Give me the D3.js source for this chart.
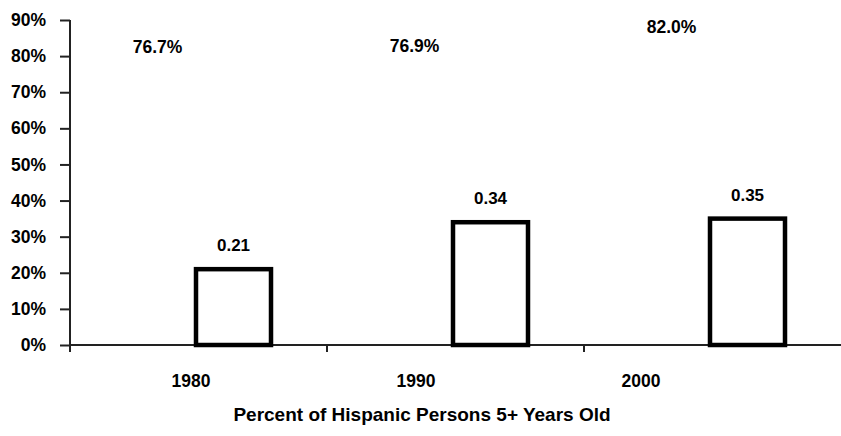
<!DOCTYPE html>
<html>
<head>
<meta charset="utf-8">
<script src="https://cdn.jsdelivr.net/npm/d3@7"></script>
<style>
  html, body { margin: 0; padding: 0; background: #fff; }
  svg { display: block; font-family: "Liberation Sans", Arial, sans-serif; }
</style>
</head>
<body>
<svg id="chart" width="841" height="436"></svg>
<script>
// Census years on the category axis
const years = ["1980", "1990", "2000"];
// Ratio shown by the outlined bars
const ratioValues = [0.21, 0.34, 0.35];
// Share of Hispanic persons 5+ years old (printed above the plot)
const shareValues = [0.767, 0.769, 0.820];
// Y-axis ticks
const yTicks = [0, 0.1, 0.2, 0.3, 0.4, 0.5, 0.6, 0.7, 0.8, 0.9];
const xTitle = "Percent of Hispanic Persons 5+ Years Old";

const svg = d3.select("#chart");
const W = 841, H = 436;
const plotL = 70, plotR = 841, plotT = 20, plotB = 345;

const y = d3.scaleLinear().domain([0, 0.9]).range([plotB, plotT]);
const x = d3.scaleBand().domain(years).range([plotL, plotR]).paddingInner(0).paddingOuter(0);
// slots inside each category band: share (label only) and ratio (outlined bar)
const inner = d3.scaleBand().domain(["share", "ratio"]).range([48, 202]).paddingInner(0);
// category label positions
const yearLabelX = d3.scalePoint().domain(years).range([191, 641]);

const fmtPct = d3.format(".0%");
const fmtShare = d3.format(".1%");

// Y axis
const yAxis = d3.axisLeft(y).tickValues(yTicks).tickFormat(fmtPct).tickSize(10).tickPadding(14);
const gy = svg.append("g").attr("transform", `translate(${plotL},0)`).call(yAxis);
gy.select(".domain").remove();
gy.selectAll(".tick line").attr("stroke", "#222").attr("stroke-width", 2);
gy.selectAll(".tick text").attr("font-size", 17.5).attr("font-weight", "bold").attr("fill", "#000")
  .attr("font-family", "Liberation Sans, Arial, sans-serif");
svg.append("line").attr("x1", plotL).attr("x2", plotL).attr("y1", plotT).attr("y2", plotB + 7)
  .attr("stroke", "#222").attr("stroke-width", 2);

// X axis: line and boundary ticks
svg.append("line").attr("x1", plotL).attr("x2", W).attr("y1", plotB).attr("y2", plotB)
  .attr("stroke", "#222").attr("stroke-width", 2);
svg.selectAll(".xtick").data(years.slice(1)).enter().append("line")
  .attr("x1", d => x(d)).attr("x2", d => x(d))
  .attr("y1", plotB).attr("y2", plotB + 7)
  .attr("stroke", "#222").attr("stroke-width", 2);

// Category labels
svg.selectAll(".year").data(years).enter().append("text")
  .attr("x", d => yearLabelX(d)).attr("y", 387)
  .attr("text-anchor", "middle").attr("font-size", 17.5).attr("font-weight", "bold")
  .text(d => d);

// Axis title
svg.append("text").attr("x", 422).attr("y", 421).attr("text-anchor", "middle")
  .attr("font-size", 19).attr("font-weight", "bold").text(xTitle);

// Outlined ratio bars
const bars = years.map((yr, i) => ({ year: yr, v: ratioValues[i] }));
svg.selectAll(".bar").data(bars).enter().append("rect")
  .attr("x", d => x(d.year) + inner("ratio") + 1)
  .attr("y", d => y(d.v))
  .attr("width", inner.bandwidth() - 2)
  .attr("height", d => plotB - y(d.v))
  .attr("fill", "#fff").attr("stroke", "#000").attr("stroke-width", 4.5);

// Ratio value labels
svg.selectAll(".rlab").data(bars).enter().append("text")
  .attr("x", d => x(d.year) + inner("ratio") + inner.bandwidth() / 2)
  .attr("y", d => y(d.v) - 18)
  .attr("text-anchor", "middle").attr("font-size", 17).attr("font-weight", "bold")
  .text(d => d.v.toFixed(2));

// Share labels
const shares = years.map((yr, i) => ({ year: yr, v: shareValues[i] }));
svg.selectAll(".slab").data(shares).enter().append("text")
  .attr("x", d => x(d.year) + inner("share") + inner.bandwidth() / 2 + 1)
  .attr("y", d => y(d.v) - 15.5)
  .attr("text-anchor", "middle").attr("font-size", 17.5).attr("font-weight", "bold")
  .text(d => fmtShare(d.v));
</script>
</body>
</html>
